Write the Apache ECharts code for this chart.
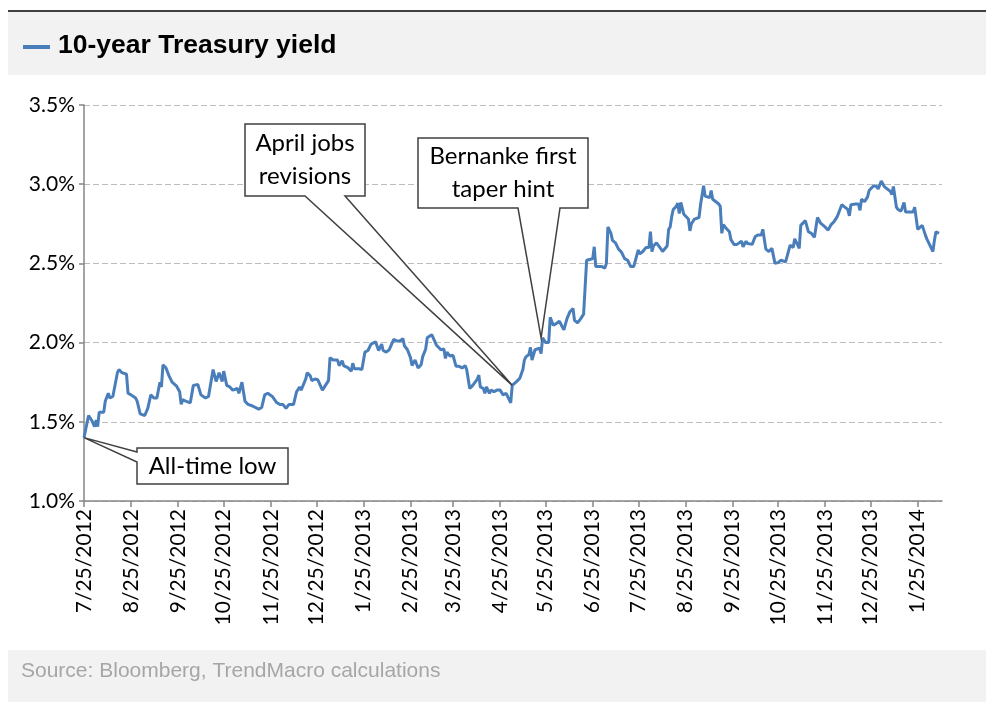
<!DOCTYPE html>
<html><head><meta charset="utf-8">
<script src="https://cdn.jsdelivr.net/npm/echarts@6/dist/echarts.min.js"></script>
<style>html,body{margin:0;padding:0;background:#fff;}#c{width:986px;height:702px;}</style>
</head><body><div id="c"></div>
<script>
// ---- data ----
const dates = [
'2012-07-25','2012-07-28','2012-07-30','2012-08-01','2012-08-02','2012-08-03','2012-08-04','2012-08-07','2012-08-08','2012-08-10',
'2012-08-11','2012-08-13','2012-08-14','2012-08-16','2012-08-17','2012-08-19','2012-08-22','2012-08-23','2012-08-25','2012-08-28',
'2012-08-29','2012-08-30','2012-08-31','2012-09-03','2012-09-05','2012-09-07','2012-09-09','2012-09-11','2012-09-13','2012-09-14',
'2012-09-15','2012-09-17','2012-09-19','2012-09-21','2012-09-24','2012-09-26','2012-09-27','2012-09-28','2012-09-30','2012-10-03',
'2012-10-05','2012-10-08','2012-10-10','2012-10-13','2012-10-15','2012-10-18','2012-10-19','2012-10-20','2012-10-22','2012-10-24',
'2012-10-25','2012-10-27','2012-10-29','2012-10-31','2012-11-03','2012-11-04','2012-11-06','2012-11-08','2012-11-10','2012-11-13',
'2012-11-14','2012-11-17','2012-11-19','2012-11-21','2012-11-23','2012-11-26','2012-11-29','2012-12-01','2012-12-03','2012-12-05',
'2012-12-07','2012-12-10','2012-12-12','2012-12-14','2012-12-15','2012-12-18','2012-12-19','2012-12-21','2012-12-22','2012-12-24',
'2012-12-26','2012-12-29','2012-12-31','2013-01-02','2013-01-03','2013-01-05','2013-01-08','2013-01-09','2013-01-11','2013-01-12',
'2013-01-15','2013-01-17','2013-01-18','2013-01-19','2013-01-22','2013-01-24','2013-01-26','2013-01-28','2013-01-30','2013-01-31',
'2013-02-02','2013-02-04','2013-02-06','2013-02-07','2013-02-09','2013-02-11','2013-02-14','2013-02-16','2013-02-18','2013-02-20',
'2013-02-21','2013-02-23','2013-02-25','2013-02-26','2013-02-28','2013-03-02','2013-03-04','2013-03-05','2013-03-07','2013-03-08',
'2013-03-11','2013-03-12','2013-03-14','2013-03-15','2013-03-17','2013-03-19','2013-03-20','2013-03-21','2013-03-23','2013-03-25',
'2013-03-27','2013-03-29','2013-03-31','2013-04-02','2013-04-03','2013-04-05','2013-04-07','2013-04-10','2013-04-11','2013-04-12',
'2013-04-14','2013-04-15','2013-04-16','2013-04-18','2013-04-19','2013-04-21','2013-04-23','2013-04-25','2013-04-27','2013-04-29',
'2013-04-30','2013-05-02','2013-05-03','2013-05-06','2013-05-08','2013-05-10','2013-05-11','2013-05-12','2013-05-14','2013-05-15',
'2013-05-16','2013-05-18','2013-05-19','2013-05-21','2013-05-22','2013-05-23','2013-05-25','2013-05-27','2013-05-28','2013-05-30',
'2013-06-01','2013-06-02','2013-06-03','2013-06-04','2013-06-06','2013-06-08','2013-06-10','2013-06-12','2013-06-13','2013-06-15',
'2013-06-17','2013-06-19','2013-06-20','2013-06-21','2013-06-23','2013-06-25','2013-06-26','2013-06-27','2013-06-29','2013-07-01',
'2013-07-03','2013-07-04','2013-07-05','2013-07-07','2013-07-08','2013-07-10','2013-07-12','2013-07-14','2013-07-16','2013-07-18',
'2013-07-19','2013-07-20','2013-07-22','2013-07-23','2013-07-25','2013-07-26','2013-07-28','2013-07-30','2013-08-01','2013-08-02',
'2013-08-03','2013-08-04','2013-08-06','2013-08-07','2013-08-09','2013-08-10','2013-08-13','2013-08-14','2013-08-15','2013-08-16',
'2013-08-17','2013-08-19','2013-08-20','2013-08-21','2013-08-22','2013-08-24','2013-08-25','2013-08-27','2013-08-28','2013-08-29',
'2013-08-31','2013-09-01','2013-09-03','2013-09-04','2013-09-06','2013-09-07','2013-09-08','2013-09-10','2013-09-11','2013-09-12',
'2013-09-13','2013-09-16','2013-09-17','2013-09-18','2013-09-19','2013-09-21','2013-09-23','2013-09-24','2013-09-26','2013-09-28',
'2013-09-29','2013-10-01','2013-10-02','2013-10-04','2013-10-05','2013-10-08','2013-10-10','2013-10-12','2013-10-14','2013-10-15',
'2013-10-17','2013-10-19','2013-10-21','2013-10-23','2013-10-25','2013-10-27','2013-10-30','2013-10-31','2013-11-02','2013-11-04',
'2013-11-05','2013-11-07','2013-11-08','2013-11-09','2013-11-10','2013-11-12','2013-11-14','2013-11-16','2013-11-18','2013-11-20',
'2013-11-22','2013-11-25','2013-11-27','2013-11-29','2013-12-01','2013-12-03','2013-12-04','2013-12-06','2013-12-08','2013-12-10',
'2013-12-11','2013-12-12','2013-12-15','2013-12-17','2013-12-18','2013-12-19','2013-12-21','2013-12-23','2013-12-24','2013-12-27',
'2013-12-29','2013-12-30','2014-01-01','2014-01-03','2014-01-04','2014-01-07','2014-01-08','2014-01-09','2014-01-11','2014-01-12',
'2014-01-14','2014-01-16','2014-01-17','2014-01-19','2014-01-22','2014-01-23','2014-01-25','2014-01-26','2014-01-28','2014-01-30',
'2014-01-31','2014-02-02','2014-02-04','2014-02-05','2014-02-06','2014-02-08'
];
const yields = [
1.40,1.54,1.51,1.47,1.51,1.47,1.56,1.56,1.63,1.68,
1.65,1.66,1.67,1.81,1.83,1.81,1.80,1.68,1.67,1.65,
1.63,1.64,1.55,1.54,1.585,1.67,1.65,1.65,1.75,1.72,
1.86,1.84,1.79,1.75,1.725,1.69,1.61,1.64,1.63,1.62,
1.73,1.735,1.67,1.65,1.66,1.83,1.84,1.755,1.81,1.755,
1.82,1.73,1.72,1.70,1.71,1.68,1.75,1.63,1.61,1.60,
1.595,1.58,1.59,1.67,1.68,1.66,1.62,1.61,1.61,1.585,
1.61,1.61,1.69,1.72,1.70,1.77,1.81,1.79,1.76,1.77,
1.765,1.70,1.73,1.76,1.905,1.89,1.89,1.855,1.885,1.855,
1.84,1.82,1.87,1.835,1.835,1.83,1.94,1.95,1.99,1.98,
2.005,1.95,1.99,1.95,1.94,1.955,2.02,2.01,2.01,2.025,
1.98,1.955,1.905,1.855,1.89,1.84,1.86,1.91,1.96,2.03,
2.05,2.04,1.985,1.99,1.955,1.96,1.90,1.94,1.915,1.92,
1.85,1.85,1.84,1.855,1.83,1.71,1.73,1.77,1.795,1.72,
1.71,1.68,1.72,1.68,1.70,1.69,1.70,1.70,1.67,1.68,
1.67,1.62,1.73,1.755,1.775,1.83,1.89,1.91,1.925,1.97,
1.89,1.955,1.945,1.965,1.93,2.03,2.00,2.00,2.16,2.11,
2.12,2.115,2.135,2.125,2.08,2.15,2.195,2.215,2.14,2.125,
2.15,2.18,2.35,2.52,2.525,2.53,2.605,2.48,2.48,2.48,
2.47,2.50,2.73,2.69,2.645,2.63,2.59,2.57,2.53,2.52,
2.525,2.48,2.48,2.48,2.585,2.56,2.575,2.60,2.60,2.70,
2.575,2.61,2.63,2.635,2.59,2.575,2.61,2.715,2.73,2.795,
2.84,2.86,2.88,2.815,2.885,2.81,2.80,2.78,2.705,2.75,
2.78,2.78,2.79,2.87,2.99,2.925,2.915,2.915,2.96,2.905,
2.895,2.875,2.86,2.69,2.745,2.72,2.70,2.65,2.62,2.62,
2.61,2.64,2.605,2.64,2.625,2.62,2.67,2.68,2.68,2.715,
2.59,2.575,2.595,2.50,2.505,2.52,2.51,2.545,2.615,2.60,
2.655,2.615,2.595,2.74,2.745,2.77,2.70,2.69,2.665,2.79,
2.755,2.73,2.71,2.745,2.765,2.795,2.79,2.87,2.855,2.84,
2.80,2.87,2.875,2.875,2.835,2.905,2.89,2.92,2.96,2.99,
2.985,2.97,3.02,2.985,2.98,2.955,2.935,2.985,2.855,2.84,
2.83,2.885,2.825,2.825,2.825,2.855,2.715,2.715,2.74,2.68,
2.655,2.615,2.575,2.645,2.70,2.69
];
const tickDates = ['2012-07-25','2012-08-25','2012-09-25','2012-10-25','2012-11-25','2012-12-25',
  '2013-01-25','2013-02-25','2013-03-25','2013-04-25','2013-05-25','2013-06-25','2013-07-25',
  '2013-08-25','2013-09-25','2013-10-25','2013-11-25','2013-12-25','2014-01-25'];
const axisStart = '2012-07-25';
const axisEnd = '2014-02-10';
const yTicks = [1.0, 1.5, 2.0, 2.5, 3.0, 3.5];
const seriesName = '10-year Treasury yield';
const sourceText = 'Source: Bloomberg, TrendMacro calculations';
const annoText = ['April jobs\nrevisions', 'Bernanke first\ntaper hint', 'All-time low'];
const annoDates = ['2013-05-03', '2013-05-22', '2012-07-25'];
const annoValues = [1.73, 2.03, 1.40];

// ---- helpers ----
function ts(s){ const p = s.split('-').map(Number); return new Date(p[0], p[1]-1, p[2]).getTime(); }
function fmtDate(v){ const d = new Date(v); return (d.getMonth()+1) + '/' + d.getDate() + '/' + d.getFullYear(); }

const BLUE = '#4a7ebb';
const LABEL_FONT = 'Lato, "Noto Sans", sans-serif';
const chart = echarts.init(document.getElementById('c'), null, {renderer: 'canvas'});

const seriesData = dates.map((d, i) => [ts(d), yields[i]]);
const tickVals = tickDates.map(ts);

chart.setOption({
  animation: false,
  backgroundColor: '#ffffff',
  grid: {left: 84, right: 44, top: 105, bottom: 201, containLabel: false},
  xAxis: {
    type: 'value',
    min: ts(axisStart), max: ts(axisEnd),
    axisLine: {show: true, lineStyle: {color: '#868686', width: 1.5}},
    axisTick: {show: true, length: 6, lineStyle: {color: '#868686', width: 1.5}, customValues: tickVals},
    axisLabel: {show: true, rotate: 90, margin: 8, color: '#000', fontSize: 21,
                fontFamily: LABEL_FONT, customValues: tickVals, formatter: fmtDate,
                hideOverlap: false, showMinLabel: true, showMaxLabel: true},
    splitLine: {show: false}
  },
  yAxis: {
    type: 'value',
    min: yTicks[0], max: yTicks[yTicks.length-1], interval: 0.5,
    axisLine: {show: true, lineStyle: {color: '#868686', width: 1.5}},
    axisTick: {show: true, length: 5, lineStyle: {color: '#868686', width: 1.5}},
    axisLabel: {color: '#000', fontSize: 21, fontFamily: LABEL_FONT, margin: 9,
                formatter: v => v.toFixed(1) + '%'},
    splitLine: {show: true, lineStyle: {color: '#bdbdbd', type: [6, 3], width: 1.2}}
  },
  series: [{
    name: seriesName, type: 'line', data: seriesData, showSymbol: false, symbol: 'none',
    lineStyle: {color: BLUE, width: 3}, z: 3
  }]
});

// ---- callouts anchored on data points ----
const boxes = [
  {x: 245, y: 124, w: 120, h: 72, side: 'bottom', a: 305, b: 345},
  {x: 418, y: 138, w: 170, h: 70, side: 'bottom', a: 518, b: 560},
  {x: 137, y: 448, w: 151, h: 36, side: 'left', a: 452, b: 462}
];
const graphics = [];
graphics.push({type: 'rect', shape: {x: 8, y: 12, width: 978, height: 63}, style: {fill: '#f2f2f2'}, silent: true, z: -1});
graphics.push({type: 'line', shape: {x1: 8, y1: 11, x2: 986, y2: 11}, style: {stroke: '#000', lineWidth: 1.5}});
graphics.push({type: 'rect', shape: {x: 23, y: 45, width: 27, height: 4}, style: {fill: BLUE}});
graphics.push({type: 'text', x: 58, y: 46, style: {text: seriesName, fill: '#000', font: 'bold 26.5px "Liberation Sans", Arial, sans-serif', textVerticalAlign: 'middle'}});
graphics.push({type: 'rect', shape: {x: 8, y: 650, width: 978, height: 52}, style: {fill: '#f2f2f2'}, silent: true, z: -1});
graphics.push({type: 'text', x: 21, y: 671, style: {text: sourceText, fill: '#a6a6a6', font: '21px "Liberation Sans", Arial, sans-serif', textVerticalAlign: 'middle'}});

boxes.forEach((bx, i) => {
  const tip = chart.convertToPixel({seriesIndex: 0}, [ts(annoDates[i]), annoValues[i]]);
  let pts;
  if (bx.side === 'bottom') {
    pts = [[bx.x, bx.y], [bx.x + bx.w, bx.y], [bx.x + bx.w, bx.y + bx.h], [bx.b, bx.y + bx.h], tip, [bx.a, bx.y + bx.h], [bx.x, bx.y + bx.h]];
  } else {
    pts = [[bx.x, bx.y], [bx.x + bx.w, bx.y], [bx.x + bx.w, bx.y + bx.h], [bx.x, bx.y + bx.h], [bx.x, bx.b], tip, [bx.x, bx.a]];
  }
  graphics.push({type: 'polygon', shape: {points: pts}, style: {fill: '#fff', stroke: '#404040', lineWidth: 1.5}, z: 10});
  graphics.push({type: 'text', x: bx.x + bx.w / 2, y: bx.y + bx.h / 2, z: 11,
    style: {text: annoText[i], fill: '#000', font: '24px ' + LABEL_FONT, textAlign: 'center', textVerticalAlign: 'middle', lineHeight: 33}});
});
chart.setOption({graphic: graphics});
</script>
</body></html>
